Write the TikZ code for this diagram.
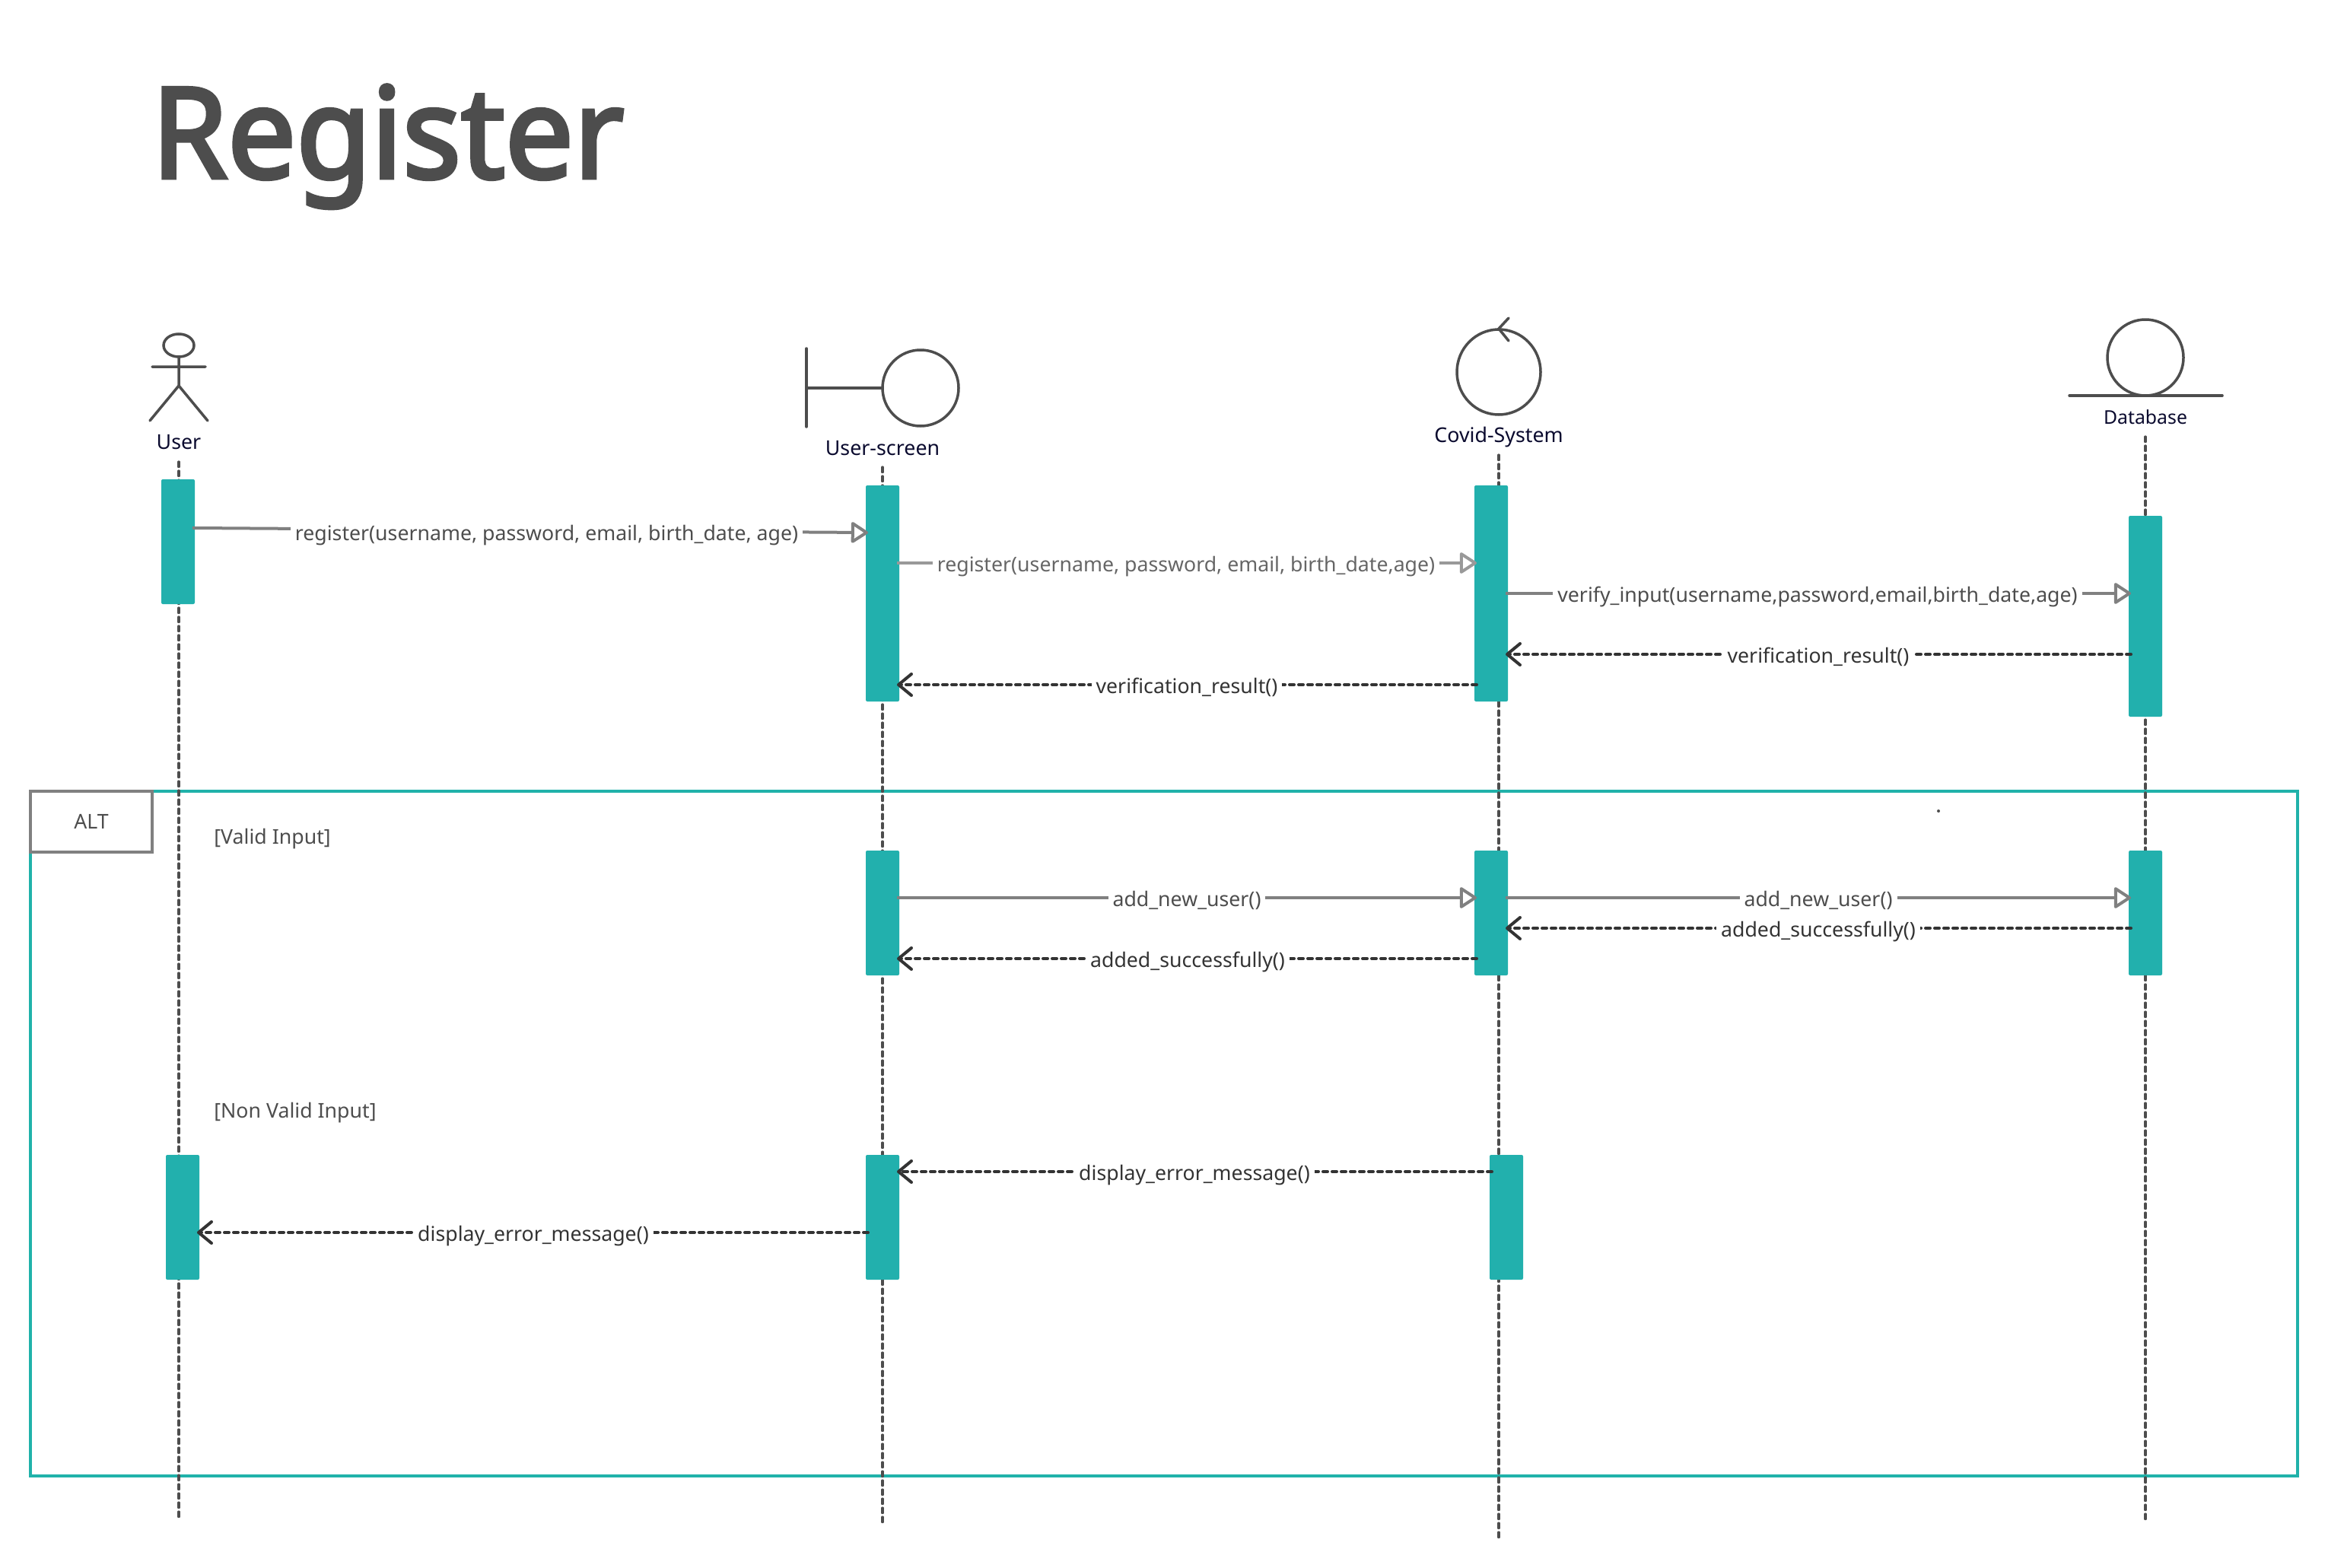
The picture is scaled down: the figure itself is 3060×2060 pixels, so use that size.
\documentclass[tikz,border=0pt]{standalone}
\usepackage{fontspec}
\setmainfont{Noto Sans}
\newfontfamily\titlefont[FakeBold=3,FakeStretch=0.965]{Noto Sans}
\usetikzlibrary{arrows.meta,calc}
\definecolor{teal1}{HTML}{22B0AD}
\definecolor{frameteal}{HTML}{20B2AA}
\definecolor{ink}{HTML}{4D4D4D}
\definecolor{gray1}{HTML}{808080}
\definecolor{gray2}{HTML}{999999}
\definecolor{dark}{HTML}{333333}
\definecolor{midgray}{HTML}{666666}
\definecolor{navy}{HTML}{0A0A2E}
\tikzset{
  x=0.5pt,y=-0.5pt,
  activation/.style={fill=teal1,draw=none,rounded corners=1pt,inner sep=0pt,outer sep=0pt,minimum width=22pt},
  lifeline/.style={draw=ink,line width=1.6pt,line cap=round,dash pattern=on 3.3pt off 2.7pt},
  glyph/.style={draw=ink,line width=1.75pt,line cap=round},
  glyphround/.style={draw=ink,line width=1.75pt},
  actor/.style={text=navy,font=\fontsize{13.4pt}{15pt}\selectfont,inner sep=0pt},
  syncmsg/.style={draw=gray1,line width=2pt,-{Triangle[open,length=12pt,width=15pt,line width=2pt,round,fill=white]},shorten >=-1.5pt,shorten <=-1.5pt},
  syncmsgl/.style={syncmsg,draw=gray2},
  retmsg/.style={draw=dark,line width=2pt,line cap=round,dash pattern=on 3pt off 3pt,-{Straight Barb[length=8.5pt,width=14pt,line width=2pt,round]},shorten >=-1.5pt,shorten <=-1.5pt},
  msglabel/.style={fill=white,inner xsep=3pt,inner ysep=2pt,text=ink,font=\fontsize{13.35pt}{15pt}\selectfont,anchor=base},
  note/.style={text=ink,font=\fontsize{13.35pt}{15pt}\selectfont,inner sep=0pt},
}
% \msgline{style}{from node}{to node}{y}{label x}{text colour}{text}
\newcommand{\msgline}[7]{%
  \coordinate (my) at (0,#4);
  \draw[#1] (#2 |- my) -- (#3 |- my);
  \node[msglabel,text=#6] at (#5,#4+11.5) {#7};
}
\begin{document}
\begin{tikzpicture}
\useasboundingbox (0,0) rectangle (3060,2060);
\fill[white] (0,0) rectangle (3060,2060);

\node[anchor=base west,inner sep=0pt,text=ink,font=\titlefont\fontsize{83pt}{90pt}\selectfont] (title) at (199,234) {Register};

% lifelines
\coordinate (uT) at (235,607);   \coordinate (uB) at (235,1996);
\coordinate (sT) at (1160,614);  \coordinate (sB) at (1160,2002);
\coordinate (cT) at (1970,598);  \coordinate (cB) at (1970,2022);
\coordinate (dT) at (2820,574);  \coordinate (dB) at (2820,1999);

% frame
\draw[frameteal,line width=2pt] (40,1040) rectangle (3020,1940);
\foreach \a/\b in {uT/uB,sT/sB,cT/cB,dT/dB} \draw[lifeline] (\a) -- (\b);
\node[draw=gray1,line width=2pt,fill=white,minimum width=80pt,minimum height=40pt,inner sep=0pt,outer sep=0pt,anchor=north west,font=\fontsize{13.35pt}{15pt}\selectfont,text=ink,text depth=-1pt] (alt) at (40,1040) {ALT};
\fill[ink] (2548,1066) circle (1pt);

% actor figures
\draw[glyphround] (235,454) ellipse (20 and 15);
\draw[glyph] (235,469) -- (235,507) (200,482) -- (270,482) (197,553) -- (235,507) -- (273,553);
\node[actor] (userlabel) at (235,581) {User};

\draw[glyph] (1060,458) -- (1060,561) (1060,510) -- (1160,510);
\draw[glyphround] (1210,510) circle (50);
\node[actor] (screenlabel) at (1160,589) {User-screen};

\draw[glyphround] (1970,489) ellipse (55 and 56);
\draw[glyph] (1983,418) -- (1970,432) -- (1983,448);
\node[actor] (systemlabel) at (1970,575) {Covid-System};

\draw[glyphround] (2820,470) circle (50);
\draw[glyph] (2720,520) -- (2921,520);
\node[actor,font=\fontsize{12.4pt}{15pt}\selectfont] (dblabel) at (2820,548) {Database};

% activations
\node[activation,minimum height=82pt] (u1) at (234,712) {};
\node[activation,minimum height=142pt] (s1) at (1160,780) {};
\node[activation,minimum height=142pt] (c1) at (1960,780) {};
\node[activation,minimum height=132pt] (d1) at (2820,810) {};
\node[activation,minimum height=82pt] (s2) at (1160,1200) {};
\node[activation,minimum height=82pt] (c2) at (1960,1200) {};
\node[activation,minimum height=82pt] (d2) at (2820,1200) {};
\node[activation,minimum height=82pt] (u3) at (240,1600) {};
\node[activation,minimum height=82pt] (s3) at (1160,1600) {};
\node[activation,minimum height=82pt] (c3) at (1980,1600) {};

% messages
\coordinate (m1a) at (0,694); \coordinate (m1b) at (0,700);
\draw[syncmsg] (u1.east |- m1a) -- (s1.west |- m1b);
\node[msglabel] (l1) at (718.5,710) {register(username, password, email, birth\_date, age)};
\msgline{syncmsgl}{s1.east}{c1.west}{740}{1559}{midgray}{register(username, password, email, birth\_date,age)}
\msgline{syncmsg}{c1.east}{d1.west}{780}{2389}{ink}{verify\_input(username,password,email,birth\_date,age)}
\msgline{retmsg}{d1.west}{c1.east}{860}{2390}{dark}{verification\_result()}
\msgline{retmsg}{c1.west}{s1.east}{900}{1560}{dark}{verification\_result()}

\msgline{syncmsg}{s2.east}{c2.west}{1180}{1560}{ink}{add\_new\_user()}
\msgline{syncmsg}{c2.east}{d2.west}{1180}{2390}{ink}{add\_new\_user()}
\msgline{retmsg}{d2.west}{c2.east}{1220}{2390}{dark}{added\_successfully()}
\msgline{retmsg}{c2.west}{s2.east}{1260}{1561}{dark}{added\_successfully()}

\msgline{retmsg}{c3.west}{s3.east}{1540}{1570}{dark}{display\_error\_message()}
\msgline{retmsg}{s3.west}{u3.east}{1620}{701}{dark}{display\_error\_message()}

% guards
\node[note,anchor=base west] (g1) at (281,1109) {[Valid Input]};
\node[note,anchor=base west] (g2) at (281,1469) {[Non Valid Input]};
\end{tikzpicture}
\end{document}
